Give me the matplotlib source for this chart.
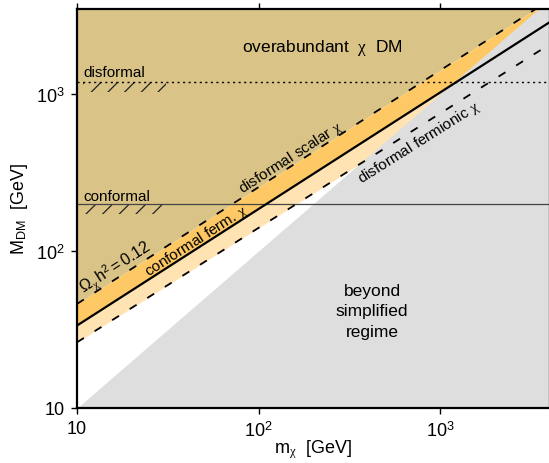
import numpy as np
import matplotlib
matplotlib.use('Agg')
import matplotlib.pyplot as plt
from matplotlib.ticker import FixedLocator, FixedFormatter, NullLocator

plt.rcParams['font.family'] = ['Liberation Sans', 'DejaVu Sans']
plt.rcParams['mathtext.fontset'] = 'custom'
plt.rcParams['mathtext.rm'] = 'Liberation Sans'
plt.rcParams['mathtext.it'] = 'Liberation Serif'
plt.rcParams['mathtext.bf'] = 'Liberation Sans:bold'
plt.rcParams['hatch.linewidth'] = 0.9

# mediator / DM masses in GeV
m_chi = [10, 4000]
relic_disformal_scalar = [46.0, 3960.0]    # Omega h^2 = 0.12, upper dashed
relic_conformal_ferm = [33.5, 2860.0]      # solid
relic_disformal_ferm = [26.2, 2065.0]      # lower dashed
simplified_edge = [10, 4000]               # M_DM = m_chi
M_conformal = 200
M_disformal = 1200
hatch_m = [10.8, 31.0]
hatch_depth = {'conformal': 171, 'disformal': 1030}

ticks = [10, 100, 1000]
tick_labels = ['10', r'$10^2$', r'$10^3$']
x_lim = (10, 4000)
y_lim = (10, 3500)

c_tan = '#d9c387'
c_dark = '#fec965'
c_light = '#ffe3b2'
c_gray = '#dedede'


def screen_angle(ax, xs, ys):
    p = ax.transData.transform(np.column_stack([xs, ys]))
    d = p[1] - p[0]
    return np.degrees(np.arctan2(d[1], d[0]))


def on_line(x, xs, ys):
    return 10 ** np.interp(np.log10(x), np.log10(xs), np.log10(ys))


def line_label(ax, text, x, ys, dist, fontsize=11):
    """Write text parallel to a relic line, dist points above (>0) or below (<0)."""
    ang = screen_angle(ax, m_chi, ys)
    r = np.radians(ang)
    off = (-dist * np.sin(r), dist * np.cos(r))
    ax.annotate(text, (x, on_line(x, m_chi, ys)), xytext=off, textcoords='offset points',
                rotation=ang, rotation_mode='anchor', ha='center',
                va='baseline' if dist > 0 else 'top', fontsize=fontsize)


fig = plt.figure(figsize=(5.49, 4.64), dpi=100)
ax = fig.add_axes([77 / 549, 55 / 464, 472.5 / 549, 399.5 / 464])
ax.set_xscale('log')
ax.set_yscale('log')
ax.set_xlim(*x_lim)
ax.set_ylim(*y_lim)

ax.fill_between(m_chi, relic_disformal_scalar, y_lim[1], color=c_tan, lw=0)
ax.fill_between(m_chi, relic_conformal_ferm, relic_disformal_scalar, color=c_dark, lw=0)
ax.fill_between(m_chi, relic_disformal_ferm, relic_conformal_ferm, color=c_light, lw=0)
ax.fill_between(m_chi, y_lim[0], simplified_edge, color=c_gray, lw=0)

# bounds on M_DM
ax.axhline(M_conformal, color='#444444', lw=0.9)
ax.axhline(M_disformal, color='k', lw=1.0, ls=(0, (1.5, 2.5)))
ax.fill_between(hatch_m, hatch_depth['conformal'], M_conformal, facecolor='none',
                edgecolor='#222222', lw=0, hatch='//')
ax.fill_between(hatch_m, hatch_depth['disformal'], M_disformal, facecolor='none',
                edgecolor='#222222', lw=0, hatch='//')
ax.text(10.8, 212, 'conformal', fontsize=11, va='baseline')
ax.text(10.8, 1296, 'disformal', fontsize=11, va='baseline')

ax.plot(m_chi, relic_disformal_scalar, color='k', lw=1.3, ls=(0, (4.5, 7)))
ax.plot(m_chi, relic_conformal_ferm, color='k', lw=1.6)
ax.plot(m_chi, relic_disformal_ferm, color='k', lw=1.3, ls=(0, (4.5, 7)))

line_label(ax, r'$\Omega_{\chi}\,\mathrm{h}^2 = 0.12$', 17.5, relic_disformal_scalar, 4, 11.5)
line_label(ax, r'conformal ferm. $\chi$', 48, relic_conformal_ferm, 2.5)
line_label(ax, r'disformal scalar $\chi$', 158, relic_disformal_scalar, 3)
line_label(ax, r'disformal fermionic $\chi$', 700, relic_disformal_ferm, -3)

ax.text(224, 1995, r'overabundant  $\chi$  DM', fontsize=12.5, ha='center', va='center')
ax.text(422, 41.5, 'beyond\nsimplified\nregime', fontsize=12.5, ha='center', va='center',
        linespacing=1.45)

for axis in (ax.xaxis, ax.yaxis):
    axis.set_major_locator(FixedLocator(ticks))
    axis.set_major_formatter(FixedFormatter(tick_labels))
    axis.set_minor_locator(NullLocator())
ax.tick_params(which='major', direction='out', length=4, width=1, labelsize=13,
               top=True, right=True, pad=5)
for s in ax.spines.values():
    s.set_linewidth(1.6)

ax.set_xlabel(r'm$_{\chi}$  [GeV]', fontsize=13, labelpad=-2)
ax.set_ylabel(r'M$_{\mathrm{DM}}$  [GeV]', fontsize=13, labelpad=4)

fig.savefig('out.png', dpi=100)
